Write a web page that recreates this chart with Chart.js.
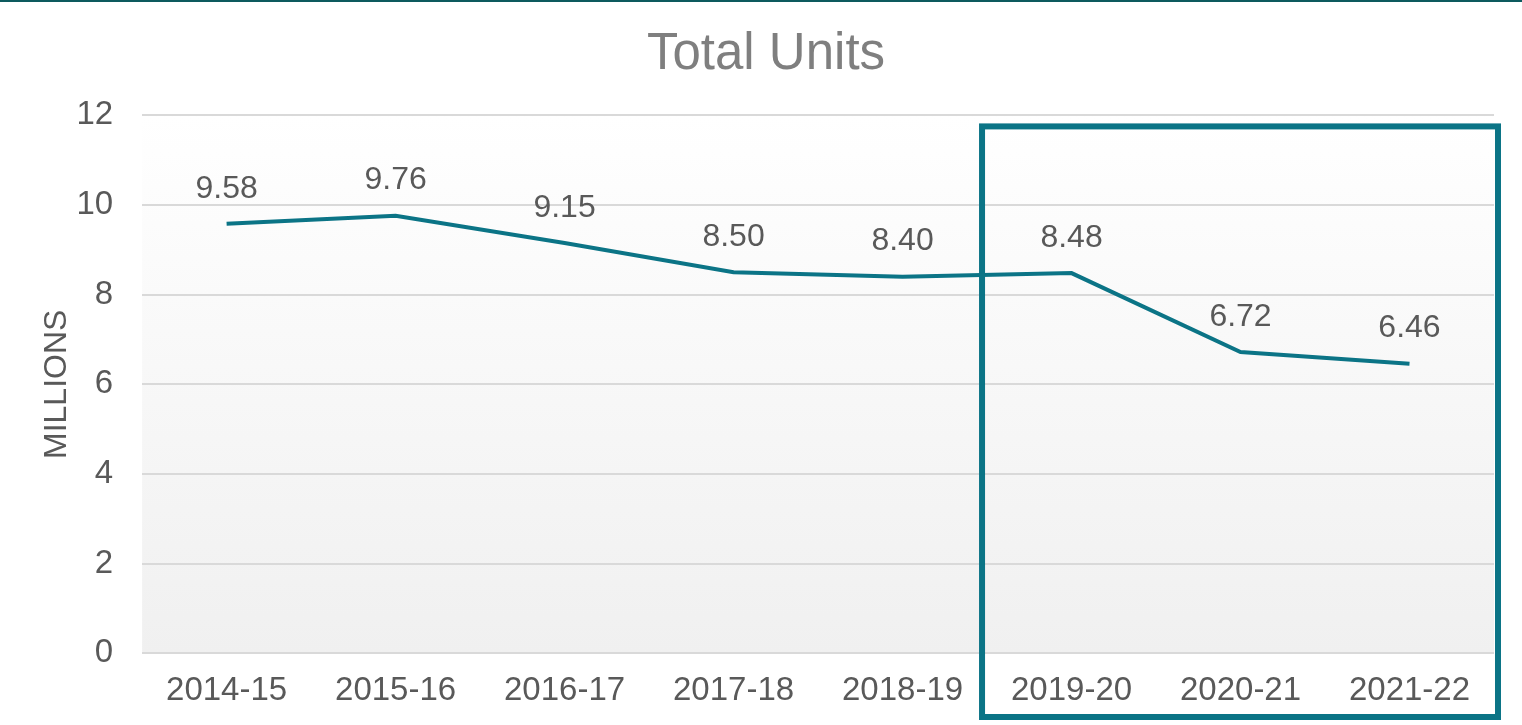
<!DOCTYPE html>
<html lang="en">

<head>
    <meta charset="UTF-8">
    <title>Total Units</title>
    <script src="https://cdn.jsdelivr.net/npm/chart.js"></script>
    <style>
        body {
            margin: 0;
            background: #ffffff;
            font-family: "Liberation Sans", Arial, sans-serif;
        }

        .wrap {
            position: relative;
            width: 1522px;
            height: 725px;
        }

        .topline {
            position: absolute;
            left: 0;
            top: 0;
            width: 100%;
            height: 2px;
            background: #0d5a5e;
        }
    </style>
</head>

<body>
    <div class="wrap">
        <canvas id="unitsChart"></canvas>
        <div class="topline"></div>
    </div>

    <script>
        const years = ['2014-15', '2015-16', '2016-17', '2017-18', '2018-19', '2019-20', '2020-21', '2021-22'];
        const totalUnits = [9.58, 9.76, 9.15, 8.50, 8.40, 8.48, 6.72, 6.46];
        const yTicks = [0, 2, 4, 6, 8, 10, 12];
        const highlightFrom = 5; // 2019-20 onwards

        const teal = '#0b7486';
        const grey = '#595959';
        const font = "'Liberation Sans', Arial, sans-serif";

        // gradient behind plot area
        const plotBg = {
            id: 'plotBg',
            beforeDraw(chart) {
                const { ctx, chartArea: a } = chart;
                const g = ctx.createLinearGradient(0, a.top, 0, a.bottom);
                g.addColorStop(0, '#ffffff');
                g.addColorStop(1, '#f0f0f0');
                ctx.save();
                ctx.fillStyle = g;
                ctx.fillRect(a.left, a.top, a.right - a.left, a.bottom - a.top);
                ctx.restore();
            }
        };

        // value labels above the points
        const valueLabels = {
            id: 'valueLabels',
            afterDatasetsDraw(chart) {
                const { ctx } = chart;
                const meta = chart.getDatasetMeta(0);
                ctx.save();
                ctx.font = '32px ' + font;
                ctx.fillStyle = grey;
                ctx.textAlign = 'center';
                ctx.textBaseline = 'middle';
                meta.data.forEach((pt, i) => {
                    ctx.fillText(totalUnits[i].toFixed(2), pt.x, pt.y - 35);
                });
                ctx.restore();
            }
        };

        // box round the last three years
        const highlightBox = {
            id: 'highlightBox',
            afterDraw(chart) {
                const { ctx, chartArea: a, scales } = chart;
                const left = scales.x.getPixelForValue(highlightFrom - 0.5) - 5;
                const right = a.right + 4;
                const top = scales.y.getPixelForValue(11.75);
                const bottom = chart.height - 8;
                ctx.save();
                ctx.strokeStyle = teal;
                ctx.lineWidth = 6;
                ctx.strokeRect(left, top, right - left, bottom - top);
                ctx.restore();
            }
        };

        new Chart(document.getElementById('unitsChart'), {
            type: 'line',
            data: {
                labels: years,
                datasets: [{
                    label: 'Total Units',
                    data: totalUnits,
                    borderColor: teal,
                    borderWidth: 4,
                    pointRadius: 0,
                    tension: 0,
                    fill: false
                }]
            },
            options: {
                responsive: true,
                maintainAspectRatio: false,
                animation: false,
                layout: {
                    padding: { top: 24, left: 38, right: 28, bottom: -4 }
                },
                plugins: {
                    legend: { display: false },
                    tooltip: { enabled: false },
                    title: {
                        display: true,
                        text: 'Total Units',
                        color: '#7f7f7f',
                        font: { family: font, size: 51, weight: 'normal' },
                        padding: { top: 0, bottom: 30 }
                    }
                },
                scales: {
                    x: {
                        offset: true,
                        grid: { display: false, drawTicks: false },
                        border: { display: false },
                        ticks: {
                            color: grey,
                            padding: 18,
                            maxRotation: 0,
                            autoSkip: false,
                            font: { family: font, size: 33 }
                        }
                    },
                    y: {
                        min: 0,
                        max: 12,
                        afterBuildTicks(scale) {
                            scale.ticks = yTicks.map(v => ({ value: v }));
                        },
                        grid: { color: '#d9d9d9', lineWidth: 2, drawTicks: false },
                        border: { display: false },
                        ticks: {
                            color: grey,
                            padding: 29,
                            font: { family: font, size: 33 }
                        },
                        title: {
                            display: true,
                            text: 'MILLIONS',
                            color: grey,
                            padding: { top: 0, bottom: -29 },
                            font: { family: font, size: 32 }
                        }
                    }
                }
            },
            plugins: [plotBg, valueLabels, highlightBox]
        });
    </script>
</body>

</html>
